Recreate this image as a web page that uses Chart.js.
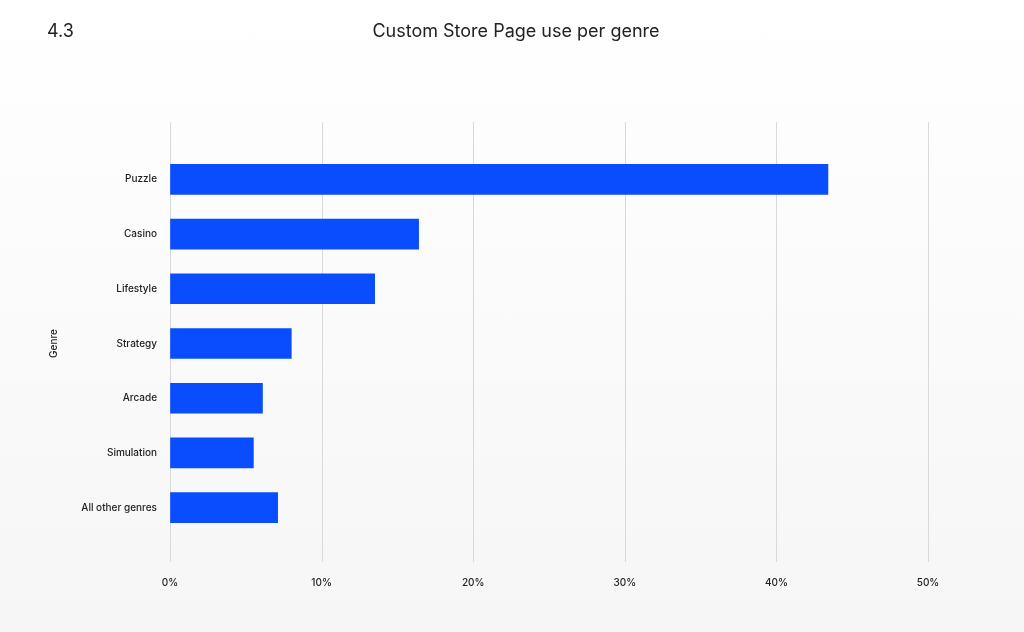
<!DOCTYPE html>
<html><head><meta charset="utf-8">
<script src="https://cdn.jsdelivr.net/npm/chart.js@4/dist/chart.umd.min.js"></script>
<style>
html,body{margin:0;padding:0;width:1024px;height:632px;overflow:hidden;background:linear-gradient(#ffffff,#f6f6f6);font-family:Inter,sans-serif;}
#wrap{position:absolute;left:0;top:0;width:1024px;height:632px;}
#num{position:absolute;left:47px;top:20px;font-size:18px;color:#222;}
#ttl{position:absolute;left:0;width:1032px;top:20px;text-align:center;font-size:18px;color:#222;}
</style></head><body>
<div id="wrap"><canvas id="c" width="1024" height="632"></canvas></div>
<div id="num">4.3</div>
<div id="ttl">Custom Store Page use per genre</div>
<script>
const categories = ["Puzzle","Casino","Lifestyle","Strategy","Arcade","Simulation","All other genres"];
const values = [43.4, 16.4, 13.5, 8.0, 6.1, 5.5, 7.1];
const xTicks = [0,10,20,30,40,50];

const gridPlugin = {
  id:'grid',
  beforeDatasetsDraw(chart){
    const {ctx, scales:{x}} = chart;
    ctx.save(); ctx.strokeStyle='#d9d9d9'; ctx.lineWidth=1;
    xTicks.forEach(t=>{const px=Math.round(x.getPixelForValue(t))+0.5;
      ctx.beginPath(); ctx.moveTo(px,122); ctx.lineTo(px,562); ctx.stroke();});
    ctx.restore();
  }
};
new Chart(document.getElementById('c'),{
  type:'bar',
  data:{labels:categories,datasets:[{data:values,backgroundColor:'#0a4dff',barThickness:30}]},
  options:{
    indexAxis:'y',responsive:false,animation:false,
    layout:{padding:{top:152,right:96,left:0,bottom:0}},
    plugins:{legend:{display:false},tooltip:{enabled:false}},
    scales:{
      x:{min:0,max:50,afterBuildTicks:s=>{s.ticks=xTicks.map(v=>({value:v}));},
         afterFit:s=>{s.height=97;},
         grid:{drawOnChartArea:false,drawTicks:false},border:{display:false},
         ticks:{padding:42,color:'#222',font:{family:'Inter',size:10,weight:'500'},callback:v=>v+'%'}},
      y:{afterFit:s=>{s.width=170;},
         grid:{display:false,drawTicks:false},border:{display:false},
         title:{display:true,text:'Genre',color:'#222',font:{family:'Inter',size:10,weight:'500'},padding:{top:48}},
         ticks:{padding:13,color:'#222',font:{family:'Inter',size:10,weight:'500'}}}
    }
  },
  plugins:[gridPlugin]
});
</script></body></html>
